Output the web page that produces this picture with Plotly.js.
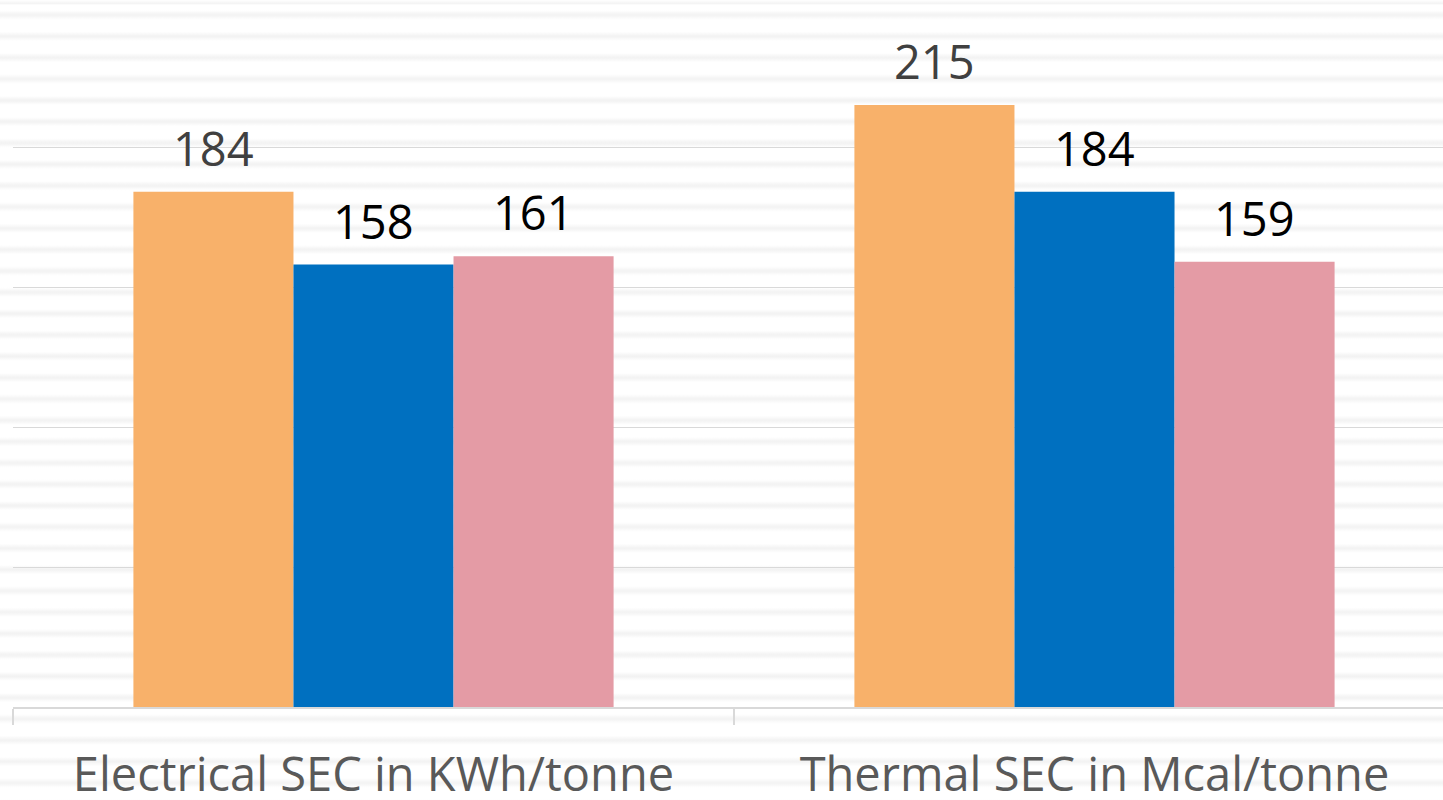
<!DOCTYPE html>
<html>
<head>
<meta charset="utf-8">
<script src="https://cdn.plot.ly/plotly-3.0.1.min.js"></script>
<style>
  html, body {
    margin: 0;
    padding: 0;
    width: 1443px;
    height: 800px;
    overflow: hidden;
    background-color: #ffffff;
    background-image: repeating-linear-gradient(
      to bottom,
      rgba(255,255,255,0) 0px,
      rgba(255,255,255,0) 6.2px,
      #f3f3f3 10.2px,
      #f3f3f3 11.2px,
      rgba(255,255,255,0) 15.2px,
      rgba(255,255,255,0) 21.33px
    );
    background-position: 0 4.3px;
  }
  #chart { width: 1460px; height: 800px; }
</style>
</head>
<body>
<div id="chart"></div>
<script>
// Specific energy consumption, two measures, three series each
const categories = ["Electrical SEC in KWh/tonne", "Thermal SEC in Mcal/tonne"];
const seriesA = [184, 215];
const seriesB = [158, 184];
const seriesC = [161, 159];

const seriesValues = [seriesA, seriesB, seriesC];
const barColors = ["#F8B16A", "#0070C0", "#E49BA5"];
const labelColors = ["#404040", "#000000", "#000000"];
const barGap = 0.334;

const traces = seriesValues.map((vals, j) => ({
  type: "bar",
  x: categories,
  y: vals,
  marker: { color: barColors[j], line: { width: 0 } },
  hoverinfo: "x+y",
  showlegend: false
}));

// value labels above each bar, placed on the category axis scale
const barWidth = (1 - barGap) / seriesValues.length;
const annotations = [];
seriesValues.forEach((vals, j) => {
  vals.forEach((v, i) => {
    annotations.push({
      xref: "x", yref: "y",
      x: i + (j - (seriesValues.length - 1) / 2) * barWidth,
      y: v,
      text: String(v),
      showarrow: false,
      xanchor: "center",
      yanchor: "bottom",
      yshift: 10,
      font: { family: "Open Sans, sans-serif", size: 47, color: labelColors[j] }
    });
  });
});

const layout = {
  width: 1460,
  height: 800,
  margin: { l: 13, r: 5, t: 7, b: 93 },
  paper_bgcolor: "rgba(0,0,0,0)",
  plot_bgcolor: "rgba(0,0,0,0)",
  barmode: "group",
  bargap: barGap,
  bargroupgap: 0,
  font: { family: "Open Sans, sans-serif", color: "#595959" },
  xaxis: {
    type: "category",
    tickson: "boundaries",
    ticks: "outside",
    ticklen: 16,
    tickwidth: 2,
    tickcolor: "#d9d9d9",
    showline: true,
    linecolor: "#d9d9d9",
    linewidth: 2,
    showgrid: false,
    tickfont: { family: "Open Sans, sans-serif", size: 47, color: "#595959" },
    ticklabelstandoff: 26
  },
  yaxis: {
    range: [0, 250],
    dtick: 50,
    showgrid: true,
    gridcolor: "#d9d9d9",
    gridwidth: 1,
    showticklabels: false,
    zeroline: false,
    ticks: ""
  },
  annotations: annotations
};

Plotly.newPlot("chart", traces, layout, { displayModeBar: false, staticPlot: true });
</script>
</body>
</html>
